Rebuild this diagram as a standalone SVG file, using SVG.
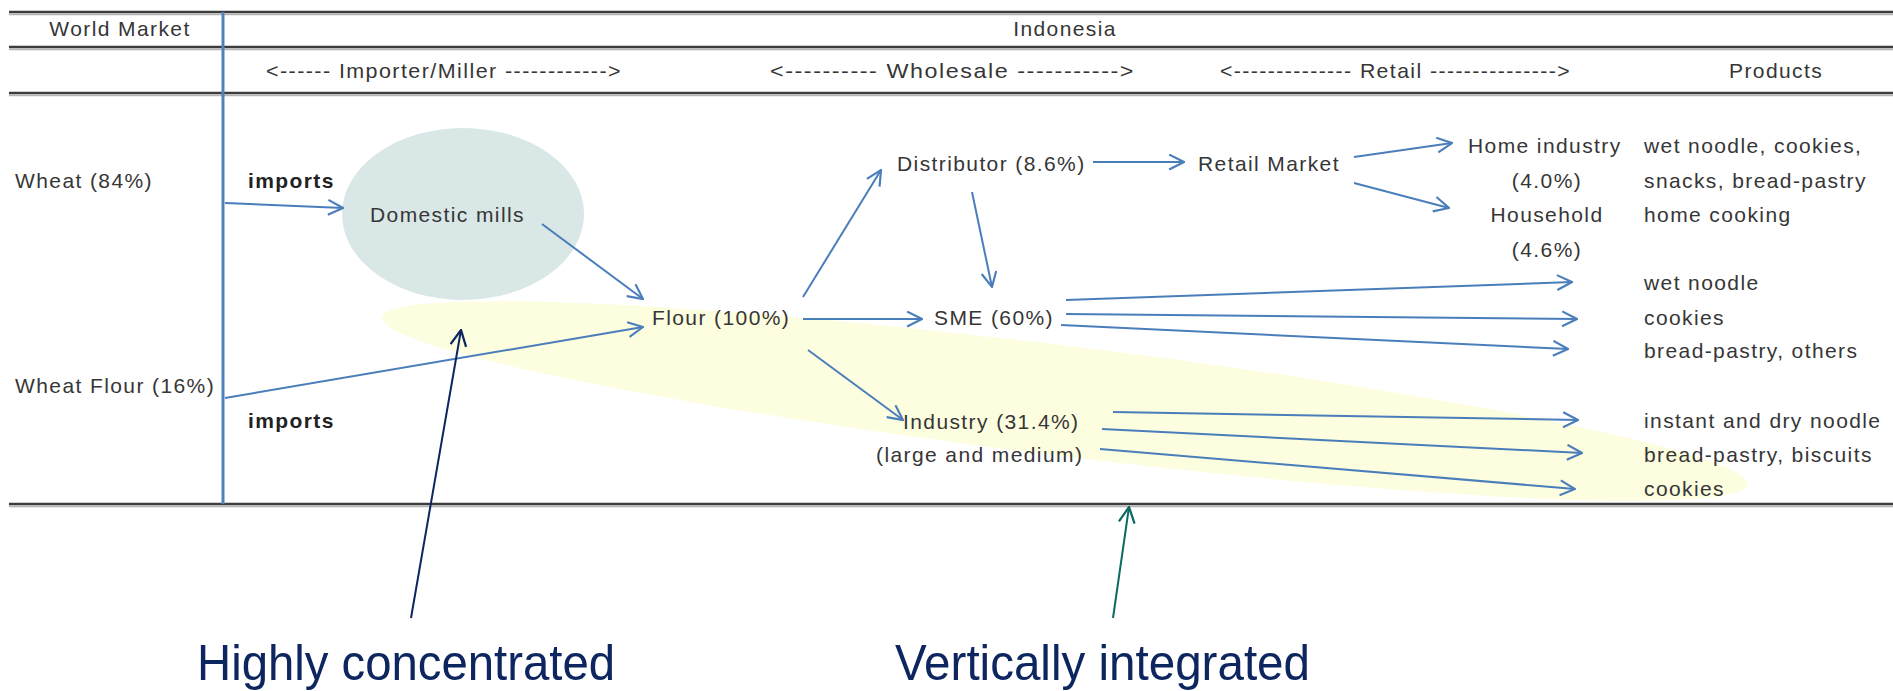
<svg xmlns="http://www.w3.org/2000/svg" width="1893" height="691" viewBox="0 0 1893 691">
<style>
.t{font-family:"Liberation Sans",Arial,sans-serif;font-size:21px;letter-spacing:1.4px;fill:#363636}
.b{font-weight:bold;fill:#222}
.m{text-anchor:middle}
.big{font-family:"Liberation Sans",Arial,sans-serif;font-size:50px}
.rule{stroke:#3c3c3c;stroke-width:2.5}
.sh{stroke:#b4b4b4;stroke-width:1.5}
.c{stroke:#4a7ebb;stroke-width:2;fill:none;marker-end:url(#arr)}
</style>
<defs>
<marker id="arr" viewBox="0 0 16 16" refX="15" refY="8" markerWidth="17" markerHeight="17" markerUnits="userSpaceOnUse" orient="auto">
<path d="M1,1 L15,8 L1,15" fill="none" stroke="#4a7ebb" stroke-width="2"/>
</marker>
<marker id="arrN" viewBox="0 0 16 16" refX="15" refY="8" markerWidth="18" markerHeight="18" markerUnits="userSpaceOnUse" orient="auto">
<path d="M1,1 L15,8 L1,15" fill="none" stroke="#0d2660" stroke-width="2"/>
</marker>
<marker id="arrT" viewBox="0 0 16 16" refX="15" refY="8" markerWidth="18" markerHeight="18" markerUnits="userSpaceOnUse" orient="auto">
<path d="M1,1 L15,8 L1,15" fill="none" stroke="#0b6b62" stroke-width="2"/>
</marker>
</defs>
<rect width="1893" height="691" fill="#ffffff"/>

<g id="highlights">
<ellipse id="vertical-integration" cx="1065" cy="401" rx="688" ry="55" transform="rotate(6.97 1065 401)" fill="#fdfddf"/>
</g>

<g id="table">
<line class="sh" x1="9" y1="14.5" x2="1893" y2="14.5"/>
<line class="rule" x1="9" y1="12" x2="1893" y2="12"/>
<line class="sh" x1="9" y1="49.5" x2="1893" y2="49.5"/>
<line class="rule" x1="9" y1="47" x2="1893" y2="47"/>
<line class="sh" x1="9" y1="95.5" x2="1893" y2="95.5"/>
<line class="rule" x1="9" y1="93" x2="1893" y2="93"/>
<line class="sh" x1="9" y1="506.5" x2="1893" y2="506.5"/>
<line class="rule" x1="9" y1="504" x2="1893" y2="504"/>
<line x1="223" y1="12" x2="223" y2="504" stroke="#4f81bd" stroke-width="3"/>
<text class="t m" x="120" y="36">World Market</text>
<text class="t m" x="1065" y="36">Indonesia</text>
<text class="t" x="266" y="78" textLength="356" lengthAdjust="spacingAndGlyphs">&lt;------ Importer/Miller ------------&gt;</text>
<text class="t" x="770" y="78" textLength="365" lengthAdjust="spacingAndGlyphs">&lt;---------- Wholesale  -----------&gt;</text>
<text class="t" x="1220" y="78" textLength="351" lengthAdjust="spacingAndGlyphs">&lt;-------------- Retail ---------------&gt;</text>
<text class="t" x="1729" y="78">Products</text>
</g>

<g id="wheat"><text class="t" x="15" y="188">Wheat (84%)</text></g>
<g id="wheat-flour"><text class="t" x="15" y="393">Wheat Flour (16%)</text></g>
<g id="imports-1"><text class="t b" x="248" y="188">imports</text></g>
<g id="imports-2"><text class="t b" x="248" y="428">imports</text></g>
<g id="domestic-mills">
<ellipse cx="463" cy="214" rx="121" ry="86" fill="#d9e7e6"/>
<text class="t" x="370" y="222">Domestic mills</text>
</g>
<g id="flour"><text class="t" x="652" y="325">Flour (100%)</text></g>
<g id="distributor"><text class="t" x="897" y="171">Distributor (8.6%)</text></g>
<g id="retail-market"><text class="t" x="1198" y="171">Retail Market</text></g>
<g id="sme"><text class="t" x="934" y="325">SME (60%)</text></g>
<g id="industry">
<text class="t" x="903" y="429">Industry (31.4%)</text>
<text class="t" x="876" y="462">(large and medium)</text>
</g>
<g id="home-industry">
<text class="t" x="1468" y="153">Home industry</text>
<text class="t m" x="1547" y="188">(4.0%)</text>
</g>
<g id="household">
<text class="t m" x="1547" y="222">Household</text>
<text class="t m" x="1547" y="257">(4.6%)</text>
</g>
<g id="products">
<text class="t" x="1644" y="153">wet noodle, cookies,</text>
<text class="t" x="1644" y="188">snacks, bread-pastry</text>
<text class="t" x="1644" y="222">home cooking</text>
<text class="t" x="1644" y="290">wet noodle</text>
<text class="t" x="1644" y="325">cookies</text>
<text class="t" x="1644" y="358">bread-pastry, others</text>
<text class="t" x="1644" y="428">instant and dry noodle</text>
<text class="t" x="1644" y="462">bread-pastry, biscuits</text>
<text class="t" x="1644" y="496">cookies</text>
</g>

<g id="connectors">
<line class="c" x1="225" y1="203" x2="343" y2="208"/>
<line class="c" x1="225" y1="398" x2="643" y2="327"/>
<line class="c" x1="542" y1="224" x2="643" y2="299"/>
<line class="c" x1="803" y1="297" x2="881" y2="170"/>
<line class="c" x1="803" y1="319" x2="922" y2="319"/>
<line class="c" x1="808" y1="350" x2="903" y2="420"/>
<line class="c" x1="1093" y1="162" x2="1184" y2="162"/>
<line class="c" x1="972" y1="192" x2="992" y2="287"/>
<line class="c" x1="1354" y1="157" x2="1452" y2="143"/>
<line class="c" x1="1354" y1="183" x2="1449" y2="208"/>
<line class="c" x1="1066" y1="300" x2="1572" y2="282"/>
<line class="c" x1="1066" y1="314" x2="1577" y2="319"/>
<line class="c" x1="1061" y1="325" x2="1568" y2="349"/>
<line class="c" x1="1113" y1="412" x2="1578" y2="420"/>
<line class="c" x1="1102" y1="429" x2="1582" y2="453"/>
<line class="c" x1="1100" y1="449" x2="1575" y2="489"/>
<line x1="411" y1="618" x2="461" y2="330" stroke="#0d2660" stroke-width="2" marker-end="url(#arrN)"/>
<line x1="1113" y1="618" x2="1129" y2="507" stroke="#0b6b62" stroke-width="2" marker-end="url(#arrT)"/>
</g>

<g id="highly-concentrated"><text class="big" x="197" y="680" fill="#0d2660" textLength="418" lengthAdjust="spacingAndGlyphs">Highly concentrated</text></g>
<g id="vertically-integrated"><text class="big" x="895" y="680" fill="#0d2660" textLength="415" lengthAdjust="spacingAndGlyphs">Vertically integrated</text></g>
</svg>
